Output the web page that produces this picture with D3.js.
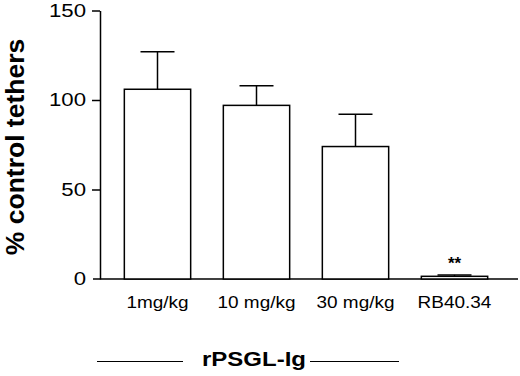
<!DOCTYPE html>
<html>
<head>
<meta charset="utf-8">
<script src="https://cdn.jsdelivr.net/npm/d3@7"></script>
<style>
  body { margin: 0; background: #fff; }
  text { font-family: "Liberation Sans", Arial, sans-serif; fill: #000; }
</style>
</head>
<body>
<div id="chart"></div>
<script>
// values
const doses = ['1mg/kg', '10 mg/kg', '30 mg/kg', 'RB40.34'];
const meanTethers = [106, 97, 74, 1.5];
const semTethers = [21, 11, 18, 0.8];
const yTickValues = [0, 50, 100, 150];
const starLabels = ['', '', '', '**'];

const width = 520;
const height = 376;

const svg = d3.select('#chart')
    .append('svg')
    .attr('width', width)
    .attr('height', height);

const xScale = d3.scaleBand()
    .domain(doses)
    .range([108, 504])
    .paddingInner(0.33)
    .paddingOuter(0.165);

const yScale = d3.scaleLinear()
    .domain([0, 150])
    .range([279, 10.5]);

const bars = doses.map((d, i) => ({
    dose: d,
    mean: meanTethers[i],
    sem: semTethers[i],
    star: starLabels[i],
}));

// y axis
const yAxis = svg.append('g')
    .attr('transform', 'translate(100,0)')
    .call(d3.axisLeft(yScale).tickValues(yTickValues).tickSize(8).tickPadding(6).tickSizeOuter(0));

yAxis.select('.domain').attr('stroke', '#000').attr('stroke-width', 1.5);
yAxis.selectAll('.tick line').attr('stroke', '#000').attr('stroke-width', 1.5);
yAxis.selectAll('.tick').filter(d => d === 0).select('line').remove();
yAxis.selectAll('.tick text')
    .attr('fill', '#000')
    .style('font-size', '18.5px')
    .attr('text-anchor', 'end')
    .attr('x', 0)
    .attr('transform', 'translate(-14,0) scale(1.2,1)');

// baseline
svg.append('line')
    .attr('x1', 93)
    .attr('x2', 518)
    .attr('y1', yScale(0))
    .attr('y2', yScale(0))
    .attr('stroke', '#000')
    .attr('stroke-width', 1.5);

// bars
svg.selectAll('.bar')
    .data(bars)
    .enter()
    .append('rect')
    .attr('class', 'bar')
    .attr('x', d => xScale(d.dose))
    .attr('y', d => yScale(d.mean))
    .attr('width', xScale.bandwidth())
    .attr('height', d => yScale(0) - yScale(d.mean))
    .attr('fill', '#fff')
    .attr('stroke', '#000')
    .attr('stroke-width', 1.5);

// error bars (upper half only)
svg.selectAll('.err')
    .data(bars)
    .enter()
    .append('line')
    .attr('class', 'err')
    .attr('x1', d => xScale(d.dose) + xScale.bandwidth() / 2)
    .attr('x2', d => xScale(d.dose) + xScale.bandwidth() / 2)
    .attr('y1', d => yScale(d.mean))
    .attr('y2', d => yScale(d.mean + d.sem))
    .attr('stroke', '#000')
    .attr('stroke-width', 1.5);

svg.selectAll('.cap')
    .data(bars)
    .enter()
    .append('line')
    .attr('class', 'cap')
    .attr('x1', d => xScale(d.dose) + xScale.bandwidth() / 2 - 17)
    .attr('x2', d => xScale(d.dose) + xScale.bandwidth() / 2 + 17)
    .attr('y1', d => yScale(d.mean + d.sem))
    .attr('y2', d => yScale(d.mean + d.sem))
    .attr('stroke', '#000')
    .attr('stroke-width', 1.5);

// significance stars
svg.selectAll('.star')
    .data(bars)
    .enter()
    .append('text')
    .attr('class', 'star')
    .attr('x', d => xScale(d.dose) + xScale.bandwidth() / 2)
    .attr('y', d => yScale(d.mean + d.sem) - 6)
    .attr('text-anchor', 'middle')
    .style('font-size', '17px')
    .style('font-weight', 'bold')
    .text(d => d.star);

// category labels
svg.selectAll('.xlabel')
    .data(bars)
    .enter()
    .append('text')
    .attr('class', 'xlabel')
    .attr('transform', d => `translate(${xScale(d.dose) + xScale.bandwidth() / 2},308) scale(1.15,1)`)
    .attr('text-anchor', 'middle')
    .style('font-size', '16.5px')
    .text(d => d.dose);

// y axis title
svg.append('text')
    .attr('transform', 'translate(24,147) rotate(-90)')
    .attr('text-anchor', 'middle')
    .style('font-size', '26.5px')
    .style('font-weight', 'bold')
    .text('% control tethers');

// group label with rules
svg.append('text')
    .attr('transform', 'translate(254,366) scale(1.2,1)')
    .attr('text-anchor', 'middle')
    .style('font-size', '20px')
    .style('font-weight', 'bold')
    .text('rPSGL-Ig');

svg.append('line')
    .attr('x1', 97).attr('x2', 183)
    .attr('y1', 361.5).attr('y2', 361.5)
    .attr('stroke', '#000').attr('stroke-width', 1.2);

svg.append('line')
    .attr('x1', 310).attr('x2', 399)
    .attr('y1', 361.5).attr('y2', 361.5)
    .attr('stroke', '#000').attr('stroke-width', 1.2);
</script>
</body>
</html>
